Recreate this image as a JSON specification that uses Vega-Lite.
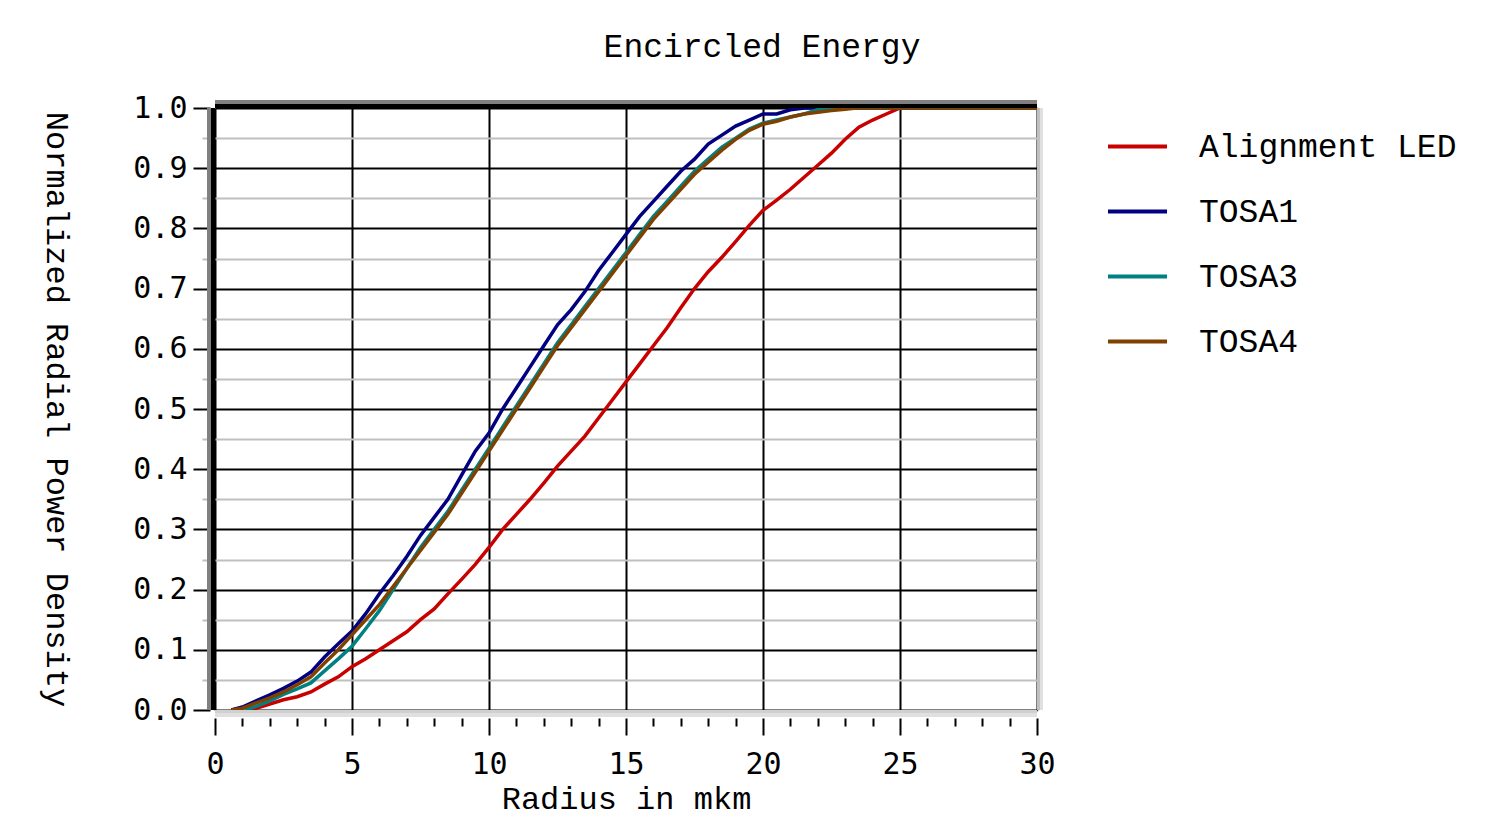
{
  "$schema": "https://vega.github.io/schema/vega-lite/v6.json",
  "width": 822,
  "height": 602,
  "autosize": "none",
  "padding": {"left": 215, "top": 108, "right": 472, "bottom": 129},
  "background": "white",
  "config": {"view": {"stroke": null}},
  "title": {
    "text": "Encircled Energy",
    "font": "Liberation Mono",
    "fontSize": 33,
    "fontWeight": "normal",
    "color": "#000000",
    "anchor": "middle",
    "dx": 136,
    "baseline": "alphabetic",
    "offset": 3
  },
  "datasets": {
    "curves": [
      {"series": "Alignment LED", "r": 1.2, "v": 0},
      {"series": "Alignment LED", "r": 1.5, "v": 0.003},
      {"series": "Alignment LED", "r": 2, "v": 0.01},
      {"series": "Alignment LED", "r": 2.5, "v": 0.017},
      {"series": "Alignment LED", "r": 3, "v": 0.022},
      {"series": "Alignment LED", "r": 3.5, "v": 0.03},
      {"series": "Alignment LED", "r": 4, "v": 0.043},
      {"series": "Alignment LED", "r": 4.5, "v": 0.055},
      {"series": "Alignment LED", "r": 5, "v": 0.072},
      {"series": "Alignment LED", "r": 5.5, "v": 0.085},
      {"series": "Alignment LED", "r": 6, "v": 0.1},
      {"series": "Alignment LED", "r": 6.5, "v": 0.115},
      {"series": "Alignment LED", "r": 7, "v": 0.13},
      {"series": "Alignment LED", "r": 7.5, "v": 0.15},
      {"series": "Alignment LED", "r": 8, "v": 0.168},
      {"series": "Alignment LED", "r": 8.5, "v": 0.193},
      {"series": "Alignment LED", "r": 9, "v": 0.217},
      {"series": "Alignment LED", "r": 9.5, "v": 0.242},
      {"series": "Alignment LED", "r": 10, "v": 0.27},
      {"series": "Alignment LED", "r": 10.5, "v": 0.3},
      {"series": "Alignment LED", "r": 11, "v": 0.325},
      {"series": "Alignment LED", "r": 11.5, "v": 0.35},
      {"series": "Alignment LED", "r": 12, "v": 0.377},
      {"series": "Alignment LED", "r": 12.5, "v": 0.405},
      {"series": "Alignment LED", "r": 13, "v": 0.43},
      {"series": "Alignment LED", "r": 13.5, "v": 0.455},
      {"series": "Alignment LED", "r": 14, "v": 0.485},
      {"series": "Alignment LED", "r": 14.5, "v": 0.515},
      {"series": "Alignment LED", "r": 15, "v": 0.545},
      {"series": "Alignment LED", "r": 15.5, "v": 0.575},
      {"series": "Alignment LED", "r": 16, "v": 0.605},
      {"series": "Alignment LED", "r": 16.5, "v": 0.635},
      {"series": "Alignment LED", "r": 17, "v": 0.668},
      {"series": "Alignment LED", "r": 17.5, "v": 0.7},
      {"series": "Alignment LED", "r": 18, "v": 0.728},
      {"series": "Alignment LED", "r": 18.5, "v": 0.752},
      {"series": "Alignment LED", "r": 19, "v": 0.778},
      {"series": "Alignment LED", "r": 19.5, "v": 0.805},
      {"series": "Alignment LED", "r": 20, "v": 0.83},
      {"series": "Alignment LED", "r": 20.5, "v": 0.847},
      {"series": "Alignment LED", "r": 21, "v": 0.865},
      {"series": "Alignment LED", "r": 21.5, "v": 0.885},
      {"series": "Alignment LED", "r": 22, "v": 0.905},
      {"series": "Alignment LED", "r": 22.5, "v": 0.925},
      {"series": "Alignment LED", "r": 23, "v": 0.948},
      {"series": "Alignment LED", "r": 23.5, "v": 0.968},
      {"series": "Alignment LED", "r": 24, "v": 0.98},
      {"series": "Alignment LED", "r": 24.5, "v": 0.99},
      {"series": "Alignment LED", "r": 25, "v": 1},
      {"series": "Alignment LED", "r": 30, "v": 1},

      {"series": "TOSA1", "r": 0.6, "v": 0},
      {"series": "TOSA1", "r": 1, "v": 0.005},
      {"series": "TOSA1", "r": 1.5, "v": 0.015},
      {"series": "TOSA1", "r": 2, "v": 0.025},
      {"series": "TOSA1", "r": 2.5, "v": 0.036},
      {"series": "TOSA1", "r": 3, "v": 0.048},
      {"series": "TOSA1", "r": 3.5, "v": 0.063},
      {"series": "TOSA1", "r": 4, "v": 0.088},
      {"series": "TOSA1", "r": 4.5, "v": 0.11},
      {"series": "TOSA1", "r": 5, "v": 0.131},
      {"series": "TOSA1", "r": 5.5, "v": 0.16},
      {"series": "TOSA1", "r": 6, "v": 0.193},
      {"series": "TOSA1", "r": 6.5, "v": 0.223},
      {"series": "TOSA1", "r": 7, "v": 0.255},
      {"series": "TOSA1", "r": 7.5, "v": 0.29},
      {"series": "TOSA1", "r": 8, "v": 0.32},
      {"series": "TOSA1", "r": 8.5, "v": 0.35},
      {"series": "TOSA1", "r": 9, "v": 0.39},
      {"series": "TOSA1", "r": 9.5, "v": 0.43},
      {"series": "TOSA1", "r": 10, "v": 0.46},
      {"series": "TOSA1", "r": 10.5, "v": 0.5},
      {"series": "TOSA1", "r": 11, "v": 0.535},
      {"series": "TOSA1", "r": 11.5, "v": 0.57},
      {"series": "TOSA1", "r": 12, "v": 0.605},
      {"series": "TOSA1", "r": 12.5, "v": 0.64},
      {"series": "TOSA1", "r": 13, "v": 0.665},
      {"series": "TOSA1", "r": 13.5, "v": 0.695},
      {"series": "TOSA1", "r": 14, "v": 0.73},
      {"series": "TOSA1", "r": 14.5, "v": 0.76},
      {"series": "TOSA1", "r": 15, "v": 0.79},
      {"series": "TOSA1", "r": 15.5, "v": 0.82},
      {"series": "TOSA1", "r": 16, "v": 0.845},
      {"series": "TOSA1", "r": 16.5, "v": 0.87},
      {"series": "TOSA1", "r": 17, "v": 0.895},
      {"series": "TOSA1", "r": 17.5, "v": 0.915},
      {"series": "TOSA1", "r": 18, "v": 0.94},
      {"series": "TOSA1", "r": 18.5, "v": 0.955},
      {"series": "TOSA1", "r": 19, "v": 0.97},
      {"series": "TOSA1", "r": 19.5, "v": 0.98},
      {"series": "TOSA1", "r": 20, "v": 0.99},
      {"series": "TOSA1", "r": 20.5, "v": 0.99},
      {"series": "TOSA1", "r": 21, "v": 0.997},
      {"series": "TOSA1", "r": 21.5, "v": 1},
      {"series": "TOSA1", "r": 30, "v": 1},

      {"series": "TOSA3", "r": 1.1, "v": 0},
      {"series": "TOSA3", "r": 1.5, "v": 0.006},
      {"series": "TOSA3", "r": 2, "v": 0.015},
      {"series": "TOSA3", "r": 2.5, "v": 0.026},
      {"series": "TOSA3", "r": 3, "v": 0.035},
      {"series": "TOSA3", "r": 3.5, "v": 0.045},
      {"series": "TOSA3", "r": 4, "v": 0.065},
      {"series": "TOSA3", "r": 4.5, "v": 0.085},
      {"series": "TOSA3", "r": 5, "v": 0.106},
      {"series": "TOSA3", "r": 5.5, "v": 0.135},
      {"series": "TOSA3", "r": 6, "v": 0.165},
      {"series": "TOSA3", "r": 6.5, "v": 0.2},
      {"series": "TOSA3", "r": 7, "v": 0.235},
      {"series": "TOSA3", "r": 7.5, "v": 0.27},
      {"series": "TOSA3", "r": 8, "v": 0.3},
      {"series": "TOSA3", "r": 8.5, "v": 0.33},
      {"series": "TOSA3", "r": 9, "v": 0.365},
      {"series": "TOSA3", "r": 9.5, "v": 0.4},
      {"series": "TOSA3", "r": 10, "v": 0.435},
      {"series": "TOSA3", "r": 10.5, "v": 0.47},
      {"series": "TOSA3", "r": 11, "v": 0.505},
      {"series": "TOSA3", "r": 11.5, "v": 0.54},
      {"series": "TOSA3", "r": 12, "v": 0.575},
      {"series": "TOSA3", "r": 12.5, "v": 0.61},
      {"series": "TOSA3", "r": 13, "v": 0.64},
      {"series": "TOSA3", "r": 13.5, "v": 0.67},
      {"series": "TOSA3", "r": 14, "v": 0.7},
      {"series": "TOSA3", "r": 14.5, "v": 0.73},
      {"series": "TOSA3", "r": 15, "v": 0.76},
      {"series": "TOSA3", "r": 15.5, "v": 0.79},
      {"series": "TOSA3", "r": 16, "v": 0.82},
      {"series": "TOSA3", "r": 16.5, "v": 0.845},
      {"series": "TOSA3", "r": 17, "v": 0.87},
      {"series": "TOSA3", "r": 17.5, "v": 0.895},
      {"series": "TOSA3", "r": 18, "v": 0.915},
      {"series": "TOSA3", "r": 18.5, "v": 0.935},
      {"series": "TOSA3", "r": 19, "v": 0.95},
      {"series": "TOSA3", "r": 19.5, "v": 0.965},
      {"series": "TOSA3", "r": 20, "v": 0.975},
      {"series": "TOSA3", "r": 20.5, "v": 0.98},
      {"series": "TOSA3", "r": 21, "v": 0.985},
      {"series": "TOSA3", "r": 21.5, "v": 0.99},
      {"series": "TOSA3", "r": 22, "v": 0.997},
      {"series": "TOSA3", "r": 22.5, "v": 1},
      {"series": "TOSA3", "r": 30, "v": 1},

      {"series": "TOSA4", "r": 0.6, "v": 0},
      {"series": "TOSA4", "r": 1, "v": 0.003},
      {"series": "TOSA4", "r": 1.5, "v": 0.012},
      {"series": "TOSA4", "r": 2, "v": 0.02},
      {"series": "TOSA4", "r": 2.5, "v": 0.03},
      {"series": "TOSA4", "r": 3, "v": 0.042},
      {"series": "TOSA4", "r": 3.5, "v": 0.055},
      {"series": "TOSA4", "r": 4, "v": 0.078},
      {"series": "TOSA4", "r": 4.5, "v": 0.1},
      {"series": "TOSA4", "r": 5, "v": 0.125},
      {"series": "TOSA4", "r": 5.5, "v": 0.15},
      {"series": "TOSA4", "r": 6, "v": 0.175},
      {"series": "TOSA4", "r": 6.5, "v": 0.205},
      {"series": "TOSA4", "r": 7, "v": 0.235},
      {"series": "TOSA4", "r": 7.5, "v": 0.265},
      {"series": "TOSA4", "r": 8, "v": 0.295},
      {"series": "TOSA4", "r": 8.5, "v": 0.325},
      {"series": "TOSA4", "r": 9, "v": 0.36},
      {"series": "TOSA4", "r": 9.5, "v": 0.395},
      {"series": "TOSA4", "r": 10, "v": 0.43},
      {"series": "TOSA4", "r": 10.5, "v": 0.465},
      {"series": "TOSA4", "r": 11, "v": 0.5},
      {"series": "TOSA4", "r": 11.5, "v": 0.535},
      {"series": "TOSA4", "r": 12, "v": 0.57},
      {"series": "TOSA4", "r": 12.5, "v": 0.605},
      {"series": "TOSA4", "r": 13, "v": 0.635},
      {"series": "TOSA4", "r": 13.5, "v": 0.665},
      {"series": "TOSA4", "r": 14, "v": 0.695},
      {"series": "TOSA4", "r": 14.5, "v": 0.725},
      {"series": "TOSA4", "r": 15, "v": 0.755},
      {"series": "TOSA4", "r": 15.5, "v": 0.785},
      {"series": "TOSA4", "r": 16, "v": 0.815},
      {"series": "TOSA4", "r": 16.5, "v": 0.84},
      {"series": "TOSA4", "r": 17, "v": 0.865},
      {"series": "TOSA4", "r": 17.5, "v": 0.89},
      {"series": "TOSA4", "r": 18, "v": 0.91},
      {"series": "TOSA4", "r": 18.5, "v": 0.93},
      {"series": "TOSA4", "r": 19, "v": 0.948},
      {"series": "TOSA4", "r": 19.5, "v": 0.963},
      {"series": "TOSA4", "r": 20, "v": 0.973},
      {"series": "TOSA4", "r": 20.5, "v": 0.978},
      {"series": "TOSA4", "r": 21, "v": 0.985},
      {"series": "TOSA4", "r": 21.5, "v": 0.99},
      {"series": "TOSA4", "r": 22, "v": 0.993},
      {"series": "TOSA4", "r": 22.5, "v": 0.996},
      {"series": "TOSA4", "r": 23, "v": 0.998},
      {"series": "TOSA4", "r": 23.4, "v": 1},
      {"series": "TOSA4", "r": 30, "v": 1}
    ]
  },
  "data": {"name": "curves"},
  "layer": [
    {
      "mark": {"type": "line", "strokeWidth": 3.5, "interpolate": "linear", "clip": true},
      "encoding": {
        "x": {
          "field": "r", "type": "quantitative",
          "scale": {"domain": [0, 30], "nice": false, "zero": false},
          "axis": {
            "title": "Radius in mkm",
            "titleFont": "Liberation Mono",
            "titleFontSize": 32,
            "titleFontWeight": "normal",
            "titleColor": "#000000",
            "titlePadding": 4,
            "values": [0,1,2,3,4,5,6,7,8,9,10,11,12,13,14,15,16,17,18,19,20,21,22,23,24,25,26,27,28,29,30],
            "tickCount": 100,
            "labelExpr": "datum.value % 5 === 0 ? format(datum.value, 'd') : ''",
            "labelFont": "DejaVu Sans Mono",
            "labelFontSize": 30,
            "labelColor": "#000000",
            "labelPadding": 14,
            "labelFlush": false,
            "labelOverlap": false,
            "labelBound": false,
            "domain": false,
            "offset": 8,
            "tickColor": "#000000",
            "tickWidth": 2,
            "tickSize": {"condition": {"test": "datum.value % 5 === 0", "value": 17}, "value": 8},
            "grid": true,
            "gridColor": "#000000",
            "gridWidth": 2,
            "gridOpacity": {"condition": {"test": "datum.value % 5 === 0", "value": 1}, "value": 0}
          }
        },
        "y": {
          "field": "v", "type": "quantitative",
          "scale": {"domain": [0, 1], "nice": false, "zero": false},
          "axis": {
            "title": "Normalized Radial Power Density",
            "titleFont": "Liberation Mono",
            "titleFontSize": 32,
            "titleFontWeight": "normal",
            "titleColor": "#000000",
            "titleAngle": 90,
            "titleBaseline": "middle",
            "titlePadding": 76,
            "values": [0,0.05,0.1,0.15,0.2,0.25,0.3,0.35,0.4,0.45,0.5,0.55,0.6,0.65,0.7,0.75,0.8,0.85,0.9,0.95,1.0],
            "tickCount": 100,
            "labelExpr": "round(datum.value*20) % 2 === 0 ? format(datum.value, '.1f') : ''",
            "labelFont": "DejaVu Sans Mono",
            "labelFontSize": 30,
            "labelColor": "#000000",
            "labelPadding": 6,
            "labelFlush": false,
            "labelOverlap": false,
            "labelBound": false,
            "domain": false,
            "offset": 5,
            "tickWidth": 2,
            "tickColor": {"condition": {"test": "round(datum.value*20) % 2 === 0", "value": "#000000"}, "value": "#c0c0c0"},
            "tickSize": {"condition": {"test": "round(datum.value*20) % 2 === 0", "value": 17}, "value": 8},
            "grid": true,
            "gridWidth": 2,
            "gridColor": {"condition": {"test": "round(datum.value*20) % 2 === 0", "value": "#000000"}, "value": "#c0c0c0"}
          }
        },
        "color": {
          "field": "series", "type": "nominal",
          "scale": {"domain": ["Alignment LED", "TOSA1", "TOSA3", "TOSA4"], "range": ["#c80000", "#000080", "#008080", "#804000"]},
          "legend": {
            "title": null,
            "orient": "none",
            "legendX": 891,
            "legendY": 7,
            "symbolType": "stroke",
            "symbolSize": 3481,
            "symbolStrokeWidth": 4,
            "labelFont": "Liberation Mono",
            "labelFontSize": 33,
            "labelColor": "#000000",
            "labelOffset": 30,
            "rowPadding": 16,
            "labelLimit": 400
          }
        }
      }
    },
    {
      "mark": {"type": "rule", "color": "#808080", "strokeWidth": 4, "yOffset": -6},
      "encoding": {"y": {"datum": 1}}
    },
    {
      "mark": {"type": "rule", "color": "#000000", "strokeWidth": 4, "yOffset": -2},
      "encoding": {"y": {"datum": 1}}
    },
    {
      "mark": {"type": "rule", "color": "#e0e0e0", "strokeWidth": 3, "xOffset": 4.5},
      "encoding": {"x": {"datum": 30}}
    },
    {
      "mark": {"type": "rule", "color": "#c0c0c0", "strokeWidth": 3, "xOffset": 1.5},
      "encoding": {"x": {"datum": 30}}
    },
    {
      "mark": {"type": "rule", "color": "#e0e0e0", "strokeWidth": 4, "yOffset": 5},
      "encoding": {"y": {"datum": 0}}
    },
    {
      "mark": {"type": "rule", "color": "#d0d0d0", "strokeWidth": 3, "yOffset": 1.5},
      "encoding": {"y": {"datum": 0}}
    },
    {
      "mark": {"type": "rule", "color": "#808080", "strokeWidth": 4, "xOffset": -5.5},
      "encoding": {"x": {"datum": 0}}
    },
    {
      "mark": {"type": "rule", "color": "#000000", "strokeWidth": 3.5, "xOffset": -2},
      "encoding": {"x": {"datum": 0}}
    }
  ]
}
